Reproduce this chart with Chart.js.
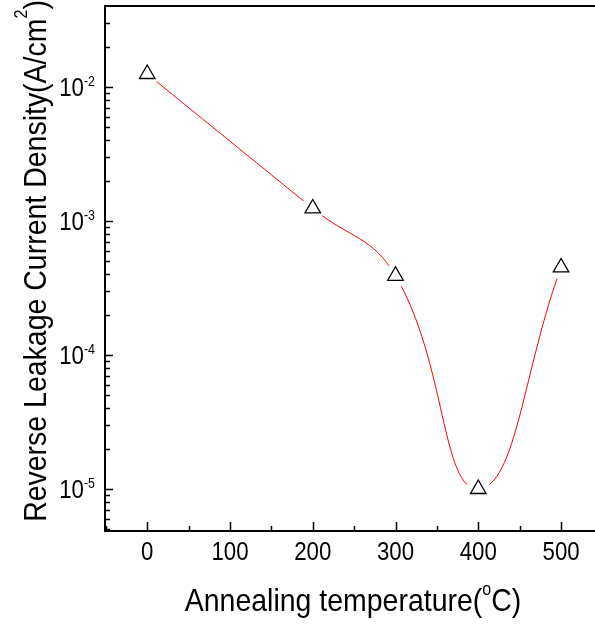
<!DOCTYPE html>
<html>
<head>
<meta charset="utf-8">
<script src="https://cdn.jsdelivr.net/npm/chart.js@4"></script>
<style>
    html, body { margin: 0; padding: 0; background: #fff; }
    .wrap { width: 595px; height: 624px; position: relative; }
</style>
</head>
<body>
<div class="wrap"><canvas id="leakChart"></canvas></div>
<script>
// annealing temperature (°C) vs reverse leakage current density (A/cm2)
const temps = [0, 200, 300, 400, 500];
const leakage = [1.25e-2, 1.24e-3, 3.9e-4, 1.0e-5, 4.5e-4];
const xTickValues = [0, 100, 200, 300, 400, 500];
const yDecades = [-5, -4, -3, -2];

const FONT = '"Liberation Sans", Arial, sans-serif';
const SQUEEZE = 0.89;   // text is a bit narrower than plain Arial

const pts = temps.map((t, i) => ({ x: t, y: leakage[i] }));

// draws a run of text pieces ({t, size, rise}) starting at x, baseline y
function runWidth(ctx, parts) {
    let w = 0;
    parts.forEach(p => { ctx.font = p.size + 'px ' + FONT; w += ctx.measureText(p.t).width; });
    return w * SQUEEZE;
}
function drawRun(ctx, parts, x, y, align) {
    const w = runWidth(ctx, parts);
    let cx = align === 'right' ? x - w : align === 'center' ? x - w / 2 : x;
    parts.forEach(p => {
        ctx.font = p.size + 'px ' + FONT;
        ctx.save();
        ctx.translate(cx, y - (p.rise || 0));
        ctx.scale(SQUEEZE, 1);
        ctx.textAlign = 'left';
        ctx.textBaseline = 'alphabetic';
        ctx.fillText(p.t, 0, 0);
        ctx.restore();
        cx += ctx.measureText(p.t).width * SQUEEZE;
    });
}

const framePlugin = {
    id: 'frame',
    afterDraw(chart) {
        const ctx = chart.ctx;
        const a = chart.chartArea;
        const xs = chart.scales.x, ys = chart.scales.y;
        ctx.save();
        ctx.strokeStyle = '#000';
        ctx.fillStyle = '#000';

        // axis lines: left, bottom, top
        ctx.lineWidth = 2;
        ctx.beginPath();
        ctx.moveTo(a.left, a.top); ctx.lineTo(a.right, a.top);
        ctx.moveTo(a.left, a.top - 1); ctx.lineTo(a.left, a.bottom);
        ctx.moveTo(a.left - 1, a.bottom); ctx.lineTo(a.right, a.bottom);
        ctx.stroke();

        // inward ticks
        ctx.lineWidth = 1.5;
        ctx.beginPath();
        for (let v = -50; v <= xs.max; v += 50) {
            const px = Math.round(xs.getPixelForValue(v)) + 0.5;
            const len = v % 100 === 0 ? 9 : 5;
            ctx.moveTo(px, a.bottom); ctx.lineTo(px, a.bottom - len);
        }
        for (let e = -6; e <= -1; e++) {
            for (let m = 1; m <= 9; m++) {
                const v = m * Math.pow(10, e);
                if (v < ys.min || v > ys.max * 0.98) continue;
                const py = Math.round(ys.getPixelForValue(v)) + 0.5;
                ctx.moveTo(a.left, py); ctx.lineTo(a.left + (m === 1 ? 8 : 5), py);
            }
        }
        ctx.stroke();

        // tick labels
        xTickValues.forEach(v => {
            drawRun(ctx, [{ t: String(v), size: 25 }], xs.getPixelForValue(v), 560, 'center');
        });
        yDecades.forEach(e => {
            const py = ys.getPixelForValue(Math.pow(10, e));
            drawRun(ctx, [{ t: '10', size: 25 }, { t: String(e), size: 14, rise: 10 }], 95, py + 9, 'right');
        });

        // axis titles
        drawRun(ctx, [
            { t: 'Annealing temperature(', size: 32 },
            { t: 'o', size: 18, rise: 16 },
            { t: 'C)', size: 32 }
        ], 353, 611, 'center');

        ctx.save();
        ctx.translate(46, 261);
        ctx.rotate(-Math.PI / 2);
        drawRun(ctx, [
            { t: 'Reverse Leakage Current Density(A/cm', size: 32 },
            { t: '2', size: 18, rise: 19 },
            { t: ')', size: 32 }
        ], 0, 0, 'center');
        ctx.restore();

        ctx.restore();
    }
};

new Chart(document.getElementById('leakChart'), {
    type: 'scatter',
    data: {
        datasets: [
            {
                // smooth red trend through the points
                data: pts,
                showLine: true,
                borderColor: '#ff0000',
                borderWidth: 1,
                tension: 0.45,
                pointRadius: 0,
                order: 3
            },
            {
                // white gap around each symbol
                data: pts,
                pointStyle: 'circle',
                pointRadius: 12,
                pointBackgroundColor: '#fff',
                pointBorderWidth: 0,
                pointBorderColor: '#fff',
                order: 2
            },
            {
                data: pts,
                pointStyle: 'triangle',
                pointRadius: 9,
                pointBackgroundColor: '#fff',
                pointBorderColor: '#000',
                pointBorderWidth: 1.3,
                order: 1
            }
        ]
    },
    options: {
        responsive: true,
        maintainAspectRatio: false,
        animation: false,
        events: [],
        layout: { autoPadding: false, padding: { left: 105, top: 6, right: 0, bottom: 93 } },
        plugins: { legend: { display: false }, tooltip: { enabled: false } },
        scales: {
            x: {
                type: 'linear', min: -51, max: 541,
                grid: { display: false }, border: { display: false },
                ticks: { display: false },
                afterFit(s) { s.height = 0; }
            },
            y: {
                type: 'logarithmic', min: 4.86e-6, max: 0.0402,
                grid: { display: false }, border: { display: false },
                ticks: { display: false },
                afterFit(s) { s.width = 0; }
            }
        }
    },
    plugins: [framePlugin]
});
</script>
</body>
</html>
